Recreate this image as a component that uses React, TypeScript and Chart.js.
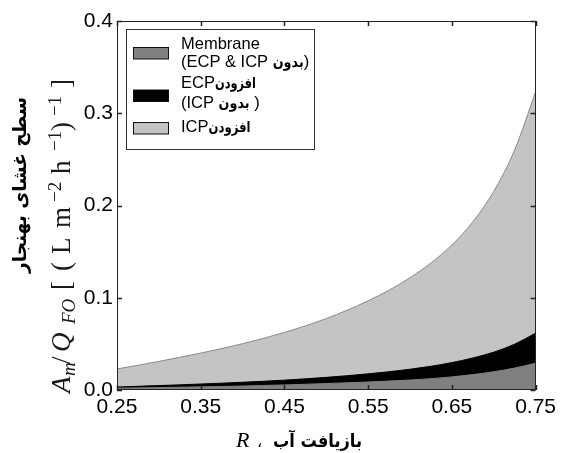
import React, { useEffect, useRef } from 'react';
import { Chart, registerables } from 'chart.js';

Chart.register(...registerables);

// Water recovery R
const RECOVERY = [0.25, 0.275, 0.3, 0.325, 0.35, 0.375, 0.4, 0.425, 0.45, 0.475, 0.5, 0.525, 0.55, 0.575, 0.6, 0.625, 0.65, 0.675, 0.7, 0.725, 0.75];
// Membrane area (no ECP & no ICP)
const MEMBRANE = [0.002, 0.0023, 0.0026, 0.003, 0.0034, 0.0038, 0.0043, 0.0049, 0.0055, 0.0062, 0.007, 0.0078, 0.0087, 0.0097, 0.0108, 0.0123, 0.0142, 0.0167, 0.0198, 0.0238, 0.029];
// Membrane + ECP
const MEMBRANE_ECP = [0.0032, 0.004, 0.0048, 0.0056, 0.0065, 0.0074, 0.0084, 0.0095, 0.0107, 0.0121, 0.0137, 0.0155, 0.0175, 0.0198, 0.0225, 0.0257, 0.0297, 0.0347, 0.041, 0.0497, 0.0616];
// Membrane + ECP + ICP
const MEMBRANE_ECP_ICP = [0.0228, 0.0268, 0.031, 0.0354, 0.04, 0.0449, 0.0502, 0.056, 0.0624, 0.0695, 0.0775, 0.0865, 0.0967, 0.1082, 0.1217, 0.1377, 0.1572, 0.1822, 0.2152, 0.2602, 0.323];

const X_TICKS = [0.25, 0.35, 0.45, 0.55, 0.65, 0.75];
const X_TICK_LABELS = ['0.25', '0.35', '0.45', '0.55', '0.65', '0.75'];
const Y_TICKS = [0, 0.1, 0.2, 0.3, 0.4];
const Y_TICK_LABELS = ['0.0', '0.1', '0.2', '0.3', '0.4'];

const COLORS = ['#808080', '#000000', '#c4c4c4'];

type Seg = { t: string; fa?: boolean; w?: number };
const LEGEND_ITEMS: { lines: Seg[][]; color: string }[] = [
  { lines: [[{ t: 'Membrane' }], [{ t: '(ECP & ICP ' }, { t: 'بدون', fa: true, w: 31 }, { t: ')' }]], color: COLORS[0] },
  { lines: [[{ t: 'ECP' }, { t: 'افزودن', fa: true, w: 41 }], [{ t: '(ICP ' }, { t: 'بدون', fa: true, w: 31 }, { t: ' )' }]], color: COLORS[1] },
  { lines: [[{ t: 'ICP' }, { t: 'افزودن', fa: true, w: 42 }]], color: COLORS[2] },
];

const Y_TITLE_FA = 'سطح غشای بهنجار';
const X_TITLE_FA = 'بازیافت آب';

const SANS = '"Liberation Sans", Arial, sans-serif';
const FA = '"DejaVu Sans", sans-serif';
const SERIF = '"Liberation Serif", "DejaVu Serif", serif';

// draw text squeezed horizontally to a given width (left aligned at x)
function fitText(ctx: CanvasRenderingContext2D, t: string, x: number, y: number, w: number) {
  const m = ctx.measureText(t).width;
  const s = Math.min(1, w / m);
  ctx.save();
  ctx.translate(x, y);
  ctx.scale(s, 1);
  ctx.fillText(t, 0, 0);
  ctx.restore();
  return m * s;
}

const decorPlugin = {
  id: 'decor',
  afterDraw(chart: any) {
    const ctx: CanvasRenderingContext2D = chart.ctx;
    const { left, right, top, bottom } = chart.chartArea;
    const xs = chart.scales.x;
    const ys = chart.scales.y;
    ctx.save();
    // frame
    ctx.strokeStyle = '#222';
    ctx.lineWidth = 1;
    ctx.strokeRect(Math.round(left) + 0.5, Math.round(top) + 0.5, Math.round(right - left) - 1, Math.round(bottom - top) - 1);
    // inside ticks
    const tl = 5;
    ctx.beginPath();
    X_TICKS.forEach((v) => {
      const px = Math.round(xs.getPixelForValue(v)) + 0.5;
      ctx.moveTo(px, bottom); ctx.lineTo(px, bottom - tl);
      ctx.moveTo(px, top); ctx.lineTo(px, top + tl);
    });
    Y_TICKS.forEach((v) => {
      const py = Math.round(ys.getPixelForValue(v)) + 0.5;
      ctx.moveTo(left, py); ctx.lineTo(left + tl, py);
      ctx.moveTo(right, py); ctx.lineTo(right - tl, py);
    });
    ctx.lineWidth = 1.5;
    ctx.stroke();

    // legend
    const lx = 126.5, ly = 29.5, lw = 188, lh = 120;
    ctx.fillStyle = '#fff';
    ctx.fillRect(lx, ly, lw, lh);
    ctx.lineWidth = 1;
    ctx.strokeStyle = '#333';
    ctx.strokeRect(lx, ly, lw, lh);
    const baselines = [[49, 66.5], [88, 108], [131.5]];
    const swatchY = [47.5, 90, 122.5];
    LEGEND_ITEMS.forEach((item, i) => {
      ctx.fillStyle = item.color;
      ctx.fillRect(133.5, swatchY[i], 35, 11.5);
      ctx.strokeStyle = '#111';
      ctx.strokeRect(133.5, swatchY[i], 35, 11.5);
      item.lines.forEach((line, j) => {
        let x = 181;
        const y = baselines[i][j];
        line.forEach((s) => {
          ctx.fillStyle = '#000';
          ctx.textAlign = 'left';
          ctx.textBaseline = 'alphabetic';
          if (s.fa) {
            ctx.font = 'bold 15px ' + FA;
            x += fitText(ctx, s.t, x, y, s.w || 999);
          } else {
            ctx.font = '16.5px ' + SANS;
            ctx.fillText(s.t, x, y);
            x += ctx.measureText(s.t).width;
          }
        });
      });
    });

    // y title (Persian)
    ctx.save();
    ctx.translate(21, 273);
    ctx.rotate(-Math.PI / 2);
    ctx.font = 'bold 19px ' + FA;
    ctx.fillStyle = '#000';
    ctx.textAlign = 'left';
    ctx.textBaseline = 'middle';
    fitText(ctx, Y_TITLE_FA, 0, 0, 176);
    ctx.restore();

    // y title (math), positioned along the rotated baseline
    ctx.save();
    ctx.translate(70, 393);
    ctx.rotate(-Math.PI / 2);
    ctx.fillStyle = '#1a1a1a';
    ctx.textAlign = 'left';
    ctx.textBaseline = 'alphabetic';
    const segs = [
      { t: 'A', f: 'italic 27px ', at: 0, dy: 0 },
      { t: 'm', f: 'italic 19px ', at: 17, dy: 5 },
      { t: '/', f: '27px ', at: 29, dy: 0 },
      { t: 'Q', f: 'italic 27px ', at: 41, dy: 0 },
      { t: 'FO', f: 'italic 19px ', at: 69, dy: 5 },
      { t: '[', f: '27px ', at: 103, dy: 0 },
      { t: '(', f: '27px ', at: 122, dy: 0 },
      { t: 'L', f: '27px ', at: 139, dy: 0 },
      { t: 'm', f: '27px ', at: 165, dy: 0 },
      { t: '\u22122', f: '19px ', at: 191, dy: -9 },
      { t: 'h', f: '27px ', at: 219, dy: 0 },
      { t: '\u22121', f: '19px ', at: 242, dy: -9 },
      { t: ')', f: '27px ', at: 262, dy: 0 },
      { t: '\u22121', f: '19px ', at: 277, dy: -9 },
      { t: ']', f: '27px ', at: 305, dy: 0 },
    ];
    segs.forEach((s) => {
      ctx.font = s.f + SERIF;
      ctx.fillText(s.t, s.at, s.dy);
    });
    ctx.restore();

    // x title
    ctx.fillStyle = '#000';
    ctx.textBaseline = 'alphabetic';
    ctx.textAlign = 'left';
    ctx.font = 'italic 22px ' + SERIF;
    ctx.fillText('R', 236, 447);
    ctx.font = '16px ' + FA;
    ctx.fillText('،', 257, 447);
    ctx.font = 'bold 18px ' + FA;
    fitText(ctx, X_TITLE_FA, 273, 447, 89);
    ctx.restore();
  },
};

export default function App() {
  const ref = useRef<HTMLCanvasElement | null>(null);
  useEffect(() => {
    if (!ref.current) return;
    const mk = (arr: number[]) => RECOVERY.map((x, i) => ({ x, y: arr[i] }));
    const chart = new Chart(ref.current, {
      type: 'line',
      data: {
        datasets: [
          { label: 'Membrane', data: mk(MEMBRANE), backgroundColor: COLORS[0], borderColor: COLORS[0], borderWidth: 1, fill: 'origin', pointRadius: 0, cubicInterpolationMode: 'monotone' },
          { label: 'ECP', data: mk(MEMBRANE_ECP), backgroundColor: COLORS[1], borderColor: COLORS[1], borderWidth: 1, fill: 'origin', pointRadius: 0, cubicInterpolationMode: 'monotone' },
          { label: 'ICP', data: mk(MEMBRANE_ECP_ICP), backgroundColor: COLORS[2], borderColor: '#8a8a8a', borderWidth: 1, fill: 'origin', pointRadius: 0, cubicInterpolationMode: 'monotone' },
        ],
      },
      options: {
        responsive: false,
        animation: false,
        events: [],
        layout: { padding: { left: 0, top: 21, right: 22, bottom: 0 } },
        plugins: { legend: { display: false }, tooltip: { enabled: false } },
        scales: {
          x: {
            type: 'linear',
            min: 0.25,
            max: 0.75,
            grid: { display: false, drawTicks: false },
            border: { display: false },
            afterBuildTicks: (s: any) => { s.ticks = X_TICKS.map((value) => ({ value })); },
            afterFit: (s: any) => { s.height = 63; },
            ticks: {
              autoSkip: false,
              maxRotation: 0,
              padding: 5,
              color: '#000',
              font: { family: SANS, size: 21 },
              callback: (_v: any, i: number) => X_TICK_LABELS[i],
            },
          },
          y: {
            type: 'linear',
            min: 0,
            max: 0.4,
            grid: { display: false, drawTicks: false },
            border: { display: false },
            afterBuildTicks: (s: any) => { s.ticks = Y_TICKS.map((value) => ({ value })); },
            afterFit: (s: any) => { s.width = 117; },
            ticks: {
              autoSkip: false,
              padding: 4,
              color: '#000',
              font: { family: SANS, size: 21 },
              callback: (_v: any, i: number) => Y_TICK_LABELS[i],
            },
          },
        },
      },
      plugins: [decorPlugin],
    } as any);
    return () => chart.destroy();
  }, []);
  return (
    <div style={{ position: 'fixed', left: 0, top: 0, width: 561, height: 453, background: '#fff' }}>
      <canvas ref={ref} width={561} height={453} style={{ display: 'block' }} />
    </div>
  );
}
